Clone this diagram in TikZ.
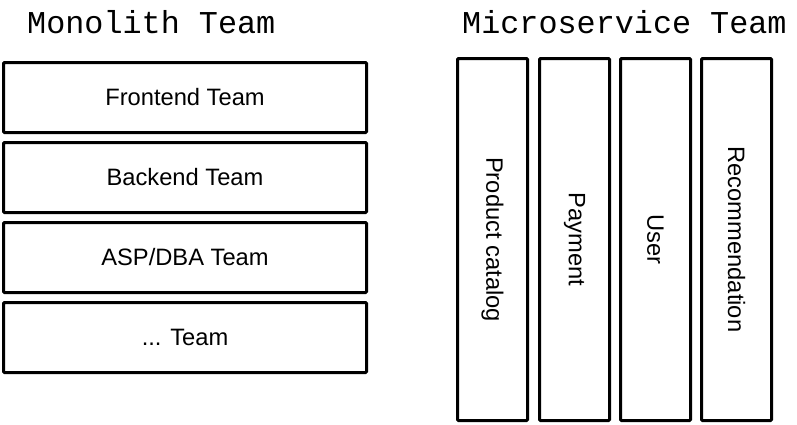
\documentclass[tikz,border=0pt]{standalone}
\usepackage{fontspec}
\setmainfont{Liberation Sans}
\newfontfamily\titlefont{Liberation Mono}
\begin{document}
\begin{tikzpicture}[x=1pt,y=-1pt,
  teambox/.style={draw=black,line width=3pt,rounded corners=1pt,minimum width=363pt,minimum height=70pt,inner sep=0pt,font=\fontsize{23.7}{28}\selectfont},
  svcbox/.style={draw=black,line width=3pt,rounded corners=1pt,minimum width=70pt,minimum height=362pt,inner sep=0pt},
  svclabel/.style={rotate=-90,inner sep=0pt,font=\fontsize{23.7}{28}\selectfont},
  titletext/.style={inner sep=0pt,anchor=base west,font=\titlefont\fontsize{31.8}{36}\selectfont}]
\useasboundingbox (0,0) rectangle (797,424);
\node[titletext] (t1) at (27,33) {Monolith Team};
\node[titletext] (t2) at (462,33) {Microservice Team};
\node[teambox] (b1) at (185,97.5) {Frontend Team};
\node[teambox] (b2) at (185,177.5) {Backend Team};
\node[teambox] (b3) at (185,257.5) {ASP/DBA Team};
\node[teambox] (b4) at (185,337.5) {... Team};
\node[svcbox] (s1) at (492.5,239.5) {};
\node[svcbox] (s2) at (574.5,239.5) {};
\node[svcbox] (s3) at (655.5,239.5) {};
\node[svcbox] (s4) at (736.5,239.5) {};
\node[svclabel] (l1) at (s1.center) {Product catalog};
\node[svclabel] (l2) at (s2.center) {Payment};
\node[svclabel] (l3) at (s3.center) {User};
\node[svclabel] (l4) at (s4.center) {Recommendation};
\end{tikzpicture}
\end{document}
